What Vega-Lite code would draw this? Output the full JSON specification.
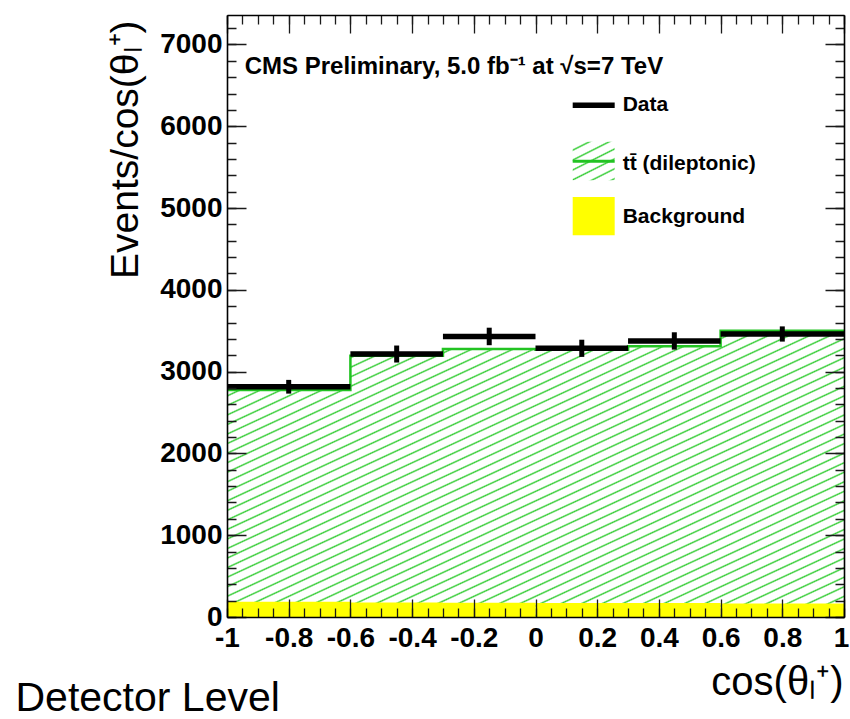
{
  "$schema": "https://vega.github.io/schema/vega-lite/v6.json",
  "width": 617,
  "height": 602,
  "autosize": "none",
  "padding": {"left": 227, "top": 15, "right": 6, "bottom": 102},
  "background": "white",
  "config": {
    "view": {"stroke": null},
    "font": "Liberation Sans",
    "axis": {
      "grid": false,
      "labelFont": "Liberation Sans", "labelFontWeight": "bold", "labelFontSize": 28, "labelColor": "black",
      "tickColor": "#1a1a1a", "tickWidth": 1.3, "domainColor": "black", "domainWidth": 1.6,
      "gridColor": "#1a1a1a", "gridWidth": 1.3, "gridOpacity": 1,
      "titleFont": "Liberation Sans", "titleFontWeight": "normal", "titleColor": "black",
      "labelFlush": false, "labelOverlap": false, "labelBound": false
    }
  },
  "datasets": {
    "bins": [
      {"lo": -1, "hi": -0.6, "mid": -0.8, "data": 2815, "err": 84, "mc": 2775, "bkg": 185},
      {"lo": -0.6, "hi": -0.3, "mid": -0.45, "data": 3215, "err": 104, "mc": 3195, "bkg": 178},
      {"lo": -0.3, "hi": 0, "mid": -0.15, "data": 3430, "err": 107, "mc": 3278, "bkg": 175},
      {"lo": 0, "hi": 0.3, "mid": 0.15, "data": 3285, "err": 105, "mc": 3268, "bkg": 172},
      {"lo": 0.3, "hi": 0.6, "mid": 0.45, "data": 3375, "err": 106, "mc": 3310, "bkg": 170},
      {"lo": 0.6, "hi": 1, "mid": 0.8, "data": 3460, "err": 93, "mc": 3500, "bkg": 166}
    ],
    "steps": [
      {"edge": -1, "mc": 2775}, {"edge": -0.6, "mc": 3195}, {"edge": -0.3, "mc": 3278},
      {"edge": 0, "mc": 3268}, {"edge": 0.3, "mc": 3310}, {"edge": 0.6, "mc": 3500}, {"edge": 1, "mc": 3500}
    ]
  },
  "resolve": {"axis": {"x": "independent", "y": "independent"}},
  "layer": [
    {
      "data": {"name": "steps"},
      "mark": {"type": "area", "interpolate": "step-after", "stroke": null,
        "fill": {"gradient": "linear", "x1": 0, "y1": 0, "x2": 1, "y2": 1, "stops": [
{"offset":0,"color":"#fff"},{"offset":0.0113,"color":"#fff"},{"offset":0.014,"color":"#3c3"},
{"offset":0.0167,"color":"#fff"},{"offset":0.028,"color":"#fff"},{"offset":0.0307,"color":"#3c3"},
{"offset":0.0333,"color":"#fff"},{"offset":0.0446,"color":"#fff"},{"offset":0.0473,"color":"#3c3"},
{"offset":0.05,"color":"#fff"},{"offset":0.0613,"color":"#fff"},{"offset":0.064,"color":"#3c3"},
{"offset":0.0667,"color":"#fff"},{"offset":0.078,"color":"#fff"},{"offset":0.0807,"color":"#3c3"},
{"offset":0.0833,"color":"#fff"},{"offset":0.0946,"color":"#fff"},{"offset":0.0973,"color":"#3c3"},
{"offset":0.1,"color":"#fff"},{"offset":0.1113,"color":"#fff"},{"offset":0.114,"color":"#3c3"},
{"offset":0.1167,"color":"#fff"},{"offset":0.128,"color":"#fff"},{"offset":0.1307,"color":"#3c3"},
{"offset":0.1333,"color":"#fff"},{"offset":0.1446,"color":"#fff"},{"offset":0.1473,"color":"#3c3"},
{"offset":0.15,"color":"#fff"},{"offset":0.1613,"color":"#fff"},{"offset":0.164,"color":"#3c3"},
{"offset":0.1667,"color":"#fff"},{"offset":0.178,"color":"#fff"},{"offset":0.1807,"color":"#3c3"},
{"offset":0.1833,"color":"#fff"},{"offset":0.1946,"color":"#fff"},{"offset":0.1973,"color":"#3c3"},
{"offset":0.2,"color":"#fff"},{"offset":0.2113,"color":"#fff"},{"offset":0.214,"color":"#3c3"},
{"offset":0.2167,"color":"#fff"},{"offset":0.228,"color":"#fff"},{"offset":0.2307,"color":"#3c3"},
{"offset":0.2333,"color":"#fff"},{"offset":0.2446,"color":"#fff"},{"offset":0.2473,"color":"#3c3"},
{"offset":0.25,"color":"#fff"},{"offset":0.2613,"color":"#fff"},{"offset":0.264,"color":"#3c3"},
{"offset":0.2667,"color":"#fff"},{"offset":0.278,"color":"#fff"},{"offset":0.2807,"color":"#3c3"},
{"offset":0.2833,"color":"#fff"},{"offset":0.2946,"color":"#fff"},{"offset":0.2973,"color":"#3c3"},
{"offset":0.3,"color":"#fff"},{"offset":0.3113,"color":"#fff"},{"offset":0.314,"color":"#3c3"},
{"offset":0.3167,"color":"#fff"},{"offset":0.328,"color":"#fff"},{"offset":0.3307,"color":"#3c3"},
{"offset":0.3333,"color":"#fff"},{"offset":0.3446,"color":"#fff"},{"offset":0.3473,"color":"#3c3"},
{"offset":0.35,"color":"#fff"},{"offset":0.3613,"color":"#fff"},{"offset":0.364,"color":"#3c3"},
{"offset":0.3667,"color":"#fff"},{"offset":0.378,"color":"#fff"},{"offset":0.3807,"color":"#3c3"},
{"offset":0.3833,"color":"#fff"},{"offset":0.3946,"color":"#fff"},{"offset":0.3973,"color":"#3c3"},
{"offset":0.4,"color":"#fff"},{"offset":0.4113,"color":"#fff"},{"offset":0.414,"color":"#3c3"},
{"offset":0.4167,"color":"#fff"},{"offset":0.428,"color":"#fff"},{"offset":0.4307,"color":"#3c3"},
{"offset":0.4333,"color":"#fff"},{"offset":0.4446,"color":"#fff"},{"offset":0.4473,"color":"#3c3"},
{"offset":0.45,"color":"#fff"},{"offset":0.4613,"color":"#fff"},{"offset":0.464,"color":"#3c3"},
{"offset":0.4667,"color":"#fff"},{"offset":0.478,"color":"#fff"},{"offset":0.4807,"color":"#3c3"},
{"offset":0.4833,"color":"#fff"},{"offset":0.4946,"color":"#fff"},{"offset":0.4973,"color":"#3c3"},
{"offset":0.5,"color":"#fff"},{"offset":0.5113,"color":"#fff"},{"offset":0.514,"color":"#3c3"},
{"offset":0.5167,"color":"#fff"},{"offset":0.528,"color":"#fff"},{"offset":0.5307,"color":"#3c3"},
{"offset":0.5333,"color":"#fff"},{"offset":0.5446,"color":"#fff"},{"offset":0.5473,"color":"#3c3"},
{"offset":0.55,"color":"#fff"},{"offset":0.5613,"color":"#fff"},{"offset":0.564,"color":"#3c3"},
{"offset":0.5667,"color":"#fff"},{"offset":0.578,"color":"#fff"},{"offset":0.5807,"color":"#3c3"},
{"offset":0.5833,"color":"#fff"},{"offset":0.5946,"color":"#fff"},{"offset":0.5973,"color":"#3c3"},
{"offset":0.6,"color":"#fff"},{"offset":0.6113,"color":"#fff"},{"offset":0.614,"color":"#3c3"},
{"offset":0.6167,"color":"#fff"},{"offset":0.628,"color":"#fff"},{"offset":0.6307,"color":"#3c3"},
{"offset":0.6333,"color":"#fff"},{"offset":0.6446,"color":"#fff"},{"offset":0.6473,"color":"#3c3"},
{"offset":0.65,"color":"#fff"},{"offset":0.6613,"color":"#fff"},{"offset":0.664,"color":"#3c3"},
{"offset":0.6667,"color":"#fff"},{"offset":0.678,"color":"#fff"},{"offset":0.6807,"color":"#3c3"},
{"offset":0.6833,"color":"#fff"},{"offset":0.6946,"color":"#fff"},{"offset":0.6973,"color":"#3c3"},
{"offset":0.7,"color":"#fff"},{"offset":0.7113,"color":"#fff"},{"offset":0.714,"color":"#3c3"},
{"offset":0.7167,"color":"#fff"},{"offset":0.728,"color":"#fff"},{"offset":0.7307,"color":"#3c3"},
{"offset":0.7333,"color":"#fff"},{"offset":0.7446,"color":"#fff"},{"offset":0.7473,"color":"#3c3"},
{"offset":0.75,"color":"#fff"},{"offset":0.7613,"color":"#fff"},{"offset":0.764,"color":"#3c3"},
{"offset":0.7667,"color":"#fff"},{"offset":0.778,"color":"#fff"},{"offset":0.7807,"color":"#3c3"},
{"offset":0.7833,"color":"#fff"},{"offset":0.7946,"color":"#fff"},{"offset":0.7973,"color":"#3c3"},
{"offset":0.8,"color":"#fff"},{"offset":0.8113,"color":"#fff"},{"offset":0.814,"color":"#3c3"},
{"offset":0.8167,"color":"#fff"},{"offset":0.828,"color":"#fff"},{"offset":0.8307,"color":"#3c3"},
{"offset":0.8333,"color":"#fff"},{"offset":0.8446,"color":"#fff"},{"offset":0.8473,"color":"#3c3"},
{"offset":0.85,"color":"#fff"},{"offset":0.8613,"color":"#fff"},{"offset":0.864,"color":"#3c3"},
{"offset":0.8667,"color":"#fff"},{"offset":0.878,"color":"#fff"},{"offset":0.8807,"color":"#3c3"},
{"offset":0.8833,"color":"#fff"},{"offset":0.8946,"color":"#fff"},{"offset":0.8973,"color":"#3c3"},
{"offset":0.9,"color":"#fff"},{"offset":0.9113,"color":"#fff"},{"offset":0.914,"color":"#3c3"},
{"offset":0.9167,"color":"#fff"},{"offset":0.928,"color":"#fff"},{"offset":0.9307,"color":"#3c3"},
{"offset":0.9333,"color":"#fff"},{"offset":0.9446,"color":"#fff"},{"offset":0.9473,"color":"#3c3"},
{"offset":0.95,"color":"#fff"},{"offset":0.9613,"color":"#fff"},{"offset":0.964,"color":"#3c3"},
{"offset":0.9667,"color":"#fff"},{"offset":0.978,"color":"#fff"},{"offset":0.9807,"color":"#3c3"},
{"offset":0.9833,"color":"#fff"},{"offset":0.9946,"color":"#fff"},{"offset":0.9973,"color":"#3c3"},
{"offset":1,"color":"#fff"}
        ]}
      },
      "encoding": {
        "x": {"field": "edge", "type": "quantitative",
          "scale": {"domain": [-1, 1], "nice": false, "zero": false},
          "axis": {"orient": "bottom", "zindex": 2, "values": [-1, -0.8, -0.6, -0.4, -0.2, 0, 0.2, 0.4, 0.6, 0.8, 1],
            "ticks": false, "labelPadding": 7, "labelExpr": "'' + datum.value", "domain": true,
            "labelOffset": {"condition": {"test": "datum.value == 1", "value": -3}, "value": 0},
            "title": "cos(θₗ⁺)", "titleFontSize": 40, "titleX": 616, "titleY": 77,
            "titleAlign": "right", "titleBaseline": "alphabetic", "titleAngle": 0}},
        "y": {"field": "mc", "type": "quantitative",
          "scale": {"domain": [0, 7360], "nice": false},
          "axis": {"orient": "left", "zindex": 2, "values": [0, 1000, 2000, 3000, 4000, 5000, 6000, 7000],
            "ticks": false, "labelPadding": 5, "format": "d", "domain": true,
            "title": "Events/cos(θₗ⁺)", "titleFontSize": 39, "titleAngle": -90,
            "titleX": -90, "titleY": 5, "titleAlign": "right", "titleBaseline": "alphabetic"}}
      }
    },
    {
      "data": {"name": "bins"},
      "mark": {"type": "rect", "fill": "#ffff00"},
      "encoding": {
        "x": {"field": "lo", "type": "quantitative",
          "axis": {"orient": "bottom", "zindex": 1, "values": [-1, -0.8, -0.6, -0.4, -0.2, 0, 0.2, 0.4, 0.6, 0.8, 1],
            "grid": true, "gridDash": [18, 566, 18, 1000],
            "labels": false, "ticks": false, "domain": false,
            "title": "Detector Level", "titleFontSize": 41, "titleX": -212, "titleY": 93,
            "titleAlign": "left", "titleBaseline": "alphabetic", "titleAngle": 0}},
        "x2": {"field": "hi"},
        "y": {"field": "bkg", "type": "quantitative",
          "axis": {"orient": "left", "zindex": 1, "values": [0, 1000, 2000, 3000, 4000, 5000, 6000, 7000],
            "grid": true, "gridDash": [19, 579, 19, 1000],
            "labels": false, "ticks": false, "domain": false, "title": null}},
        "y2": {"datum": 0}
      }
    },
    {
      "data": {"name": "steps"},
      "mark": {"type": "line", "interpolate": "step-after", "stroke": "#22c322", "strokeWidth": 2.5},
      "encoding": {
        "x": {"field": "edge", "type": "quantitative",
          "axis": {"orient": "bottom", "zindex": 1, "values": [-1,-0.95,-0.9,-0.85,-0.8,-0.75,-0.7,-0.65,-0.6,-0.55,-0.5,-0.45,-0.4,-0.35,-0.3,-0.25,-0.2,-0.15,-0.1,-0.05,0,0.05,0.1,0.15,0.2,0.25,0.3,0.35,0.4,0.45,0.5,0.55,0.6,0.65,0.7,0.75,0.8,0.85,0.9,0.95,1],
            "grid": true, "gridDash": [9, 584, 9, 1000],
            "labels": false, "ticks": false, "domain": false, "title": null}},
        "y": {"field": "mc", "type": "quantitative",
          "axis": {"orient": "left", "zindex": 1, "values": [0,200,400,600,800,1000,1200,1400,1600,1800,2000,2200,2400,2600,2800,3000,3200,3400,3600,3800,4000,4200,4400,4600,4800,5000,5200,5400,5600,5800,6000,6200,6400,6600,6800,7000,7200],
            "grid": true, "gridDash": [9, 599, 9, 1000],
            "labels": false, "ticks": false, "domain": false, "title": null}}
      }
    },
    {
      "data": {"name": "bins"},
      "mark": {"type": "rule", "color": "black", "strokeWidth": 5.5},
      "encoding": {
        "x": {"field": "lo", "type": "quantitative",
          "axis": {"orient": "top", "zindex": 2, "labels": false, "ticks": false, "domain": true, "title": null}},
        "x2": {"field": "hi"},
        "y": {"field": "data", "type": "quantitative",
          "axis": {"orient": "right", "zindex": 2, "labels": false, "ticks": false, "domain": true, "title": null}}
      }
    },
    {
      "data": {"name": "bins"},
      "mark": {"type": "errorbar", "ticks": false, "thickness": 5, "color": "black"},
      "encoding": {
        "x": {"field": "mid", "type": "quantitative", "axis": null},
        "y": {"field": "data", "type": "quantitative", "axis": null},
        "yError": {"field": "err"}
      }
    },
    {
      "data": {"values": [{}]},
      "mark": {"type": "text", "text": "CMS Preliminary, 5.0 fb⁻¹ at √s=7 TeV", "font": "Liberation Sans", "fontWeight": "bold", "fontSize": 24, "align": "left", "baseline": "middle", "color": "black"},
      "encoding": {
        "x": {"datum": -0.9426, "axis": null},
        "y": {"datum": 6726, "axis": null}
      }
    },
    {
      "data": {"values": [{}]},
      "mark": {"type": "rule", "color": "black", "strokeWidth": 5.5},
      "encoding": {
        "x": {"datum": 0.1206, "axis": null},
        "x2": {"datum": 0.2567},
        "y": {"datum": 6256, "axis": null}
      }
    },
    {
      "data": {"values": [{}]},
      "mark": {"type": "rect", "stroke": null,
        "fill": {"gradient": "linear", "x1": 0, "y1": 0, "x2": 0.654, "y2": 1.19, "stops": [
          {"offset":0,"color":"#fff"},{"offset":0.1133,"color":"#fff"},{"offset":0.14,"color":"#3c3"},
          {"offset":0.1667,"color":"#fff"},{"offset":0.28,"color":"#fff"},{"offset":0.3067,"color":"#3c3"},
          {"offset":0.3333,"color":"#fff"},{"offset":0.4467,"color":"#fff"},{"offset":0.4733,"color":"#3c3"},
          {"offset":0.5,"color":"#fff"},{"offset":0.6133,"color":"#fff"},{"offset":0.64,"color":"#3c3"},
          {"offset":0.6667,"color":"#fff"},{"offset":0.78,"color":"#fff"},{"offset":0.8067,"color":"#3c3"},
          {"offset":0.8333,"color":"#fff"},{"offset":0.9467,"color":"#fff"},{"offset":0.9733,"color":"#3c3"},
          {"offset":1,"color":"#fff"}
        ]}},
      "encoding": {
        "x": {"datum": 0.1206, "axis": null},
        "x2": {"datum": 0.2567},
        "y": {"datum": 5809, "axis": null},
        "y2": {"datum": 5340}
      }
    },
    {
      "data": {"values": [{}]},
      "mark": {"type": "rule", "color": "#22c322", "strokeWidth": 3},
      "encoding": {
        "x": {"datum": 0.1206, "axis": null},
        "x2": {"datum": 0.2567},
        "y": {"datum": 5573, "axis": null}
      }
    },
    {
      "data": {"values": [{}]},
      "mark": {"type": "rect", "fill": "#ffff00"},
      "encoding": {
        "x": {"datum": 0.1206, "axis": null},
        "x2": {"datum": 0.2567},
        "y": {"datum": 5136, "axis": null},
        "y2": {"datum": 4668}
      }
    },
    {
      "data": {"values": [{}]},
      "mark": {"type": "text", "text": "Data", "font": "Liberation Sans", "fontWeight": "bold", "fontSize": 21, "align": "left", "baseline": "middle", "color": "black"},
      "encoding": {"x": {"datum": 0.2826, "axis": null}, "y": {"datum": 6261, "axis": null}}
    },
    {
      "data": {"values": [{}]},
      "mark": {"type": "text", "text": "tt̄ (dileptonic)", "font": "Liberation Sans", "fontWeight": "bold", "fontSize": 21, "align": "left", "baseline": "middle", "color": "black"},
      "encoding": {"x": {"datum": 0.2826, "axis": null}, "y": {"datum": 5544, "axis": null}}
    },
    {
      "data": {"values": [{}]},
      "mark": {"type": "text", "text": "Background", "font": "Liberation Sans", "fontWeight": "bold", "fontSize": 21, "align": "left", "baseline": "middle", "color": "black"},
      "encoding": {"x": {"datum": 0.2826, "axis": null}, "y": {"datum": 4888, "axis": null}}
    }
  ]
}
